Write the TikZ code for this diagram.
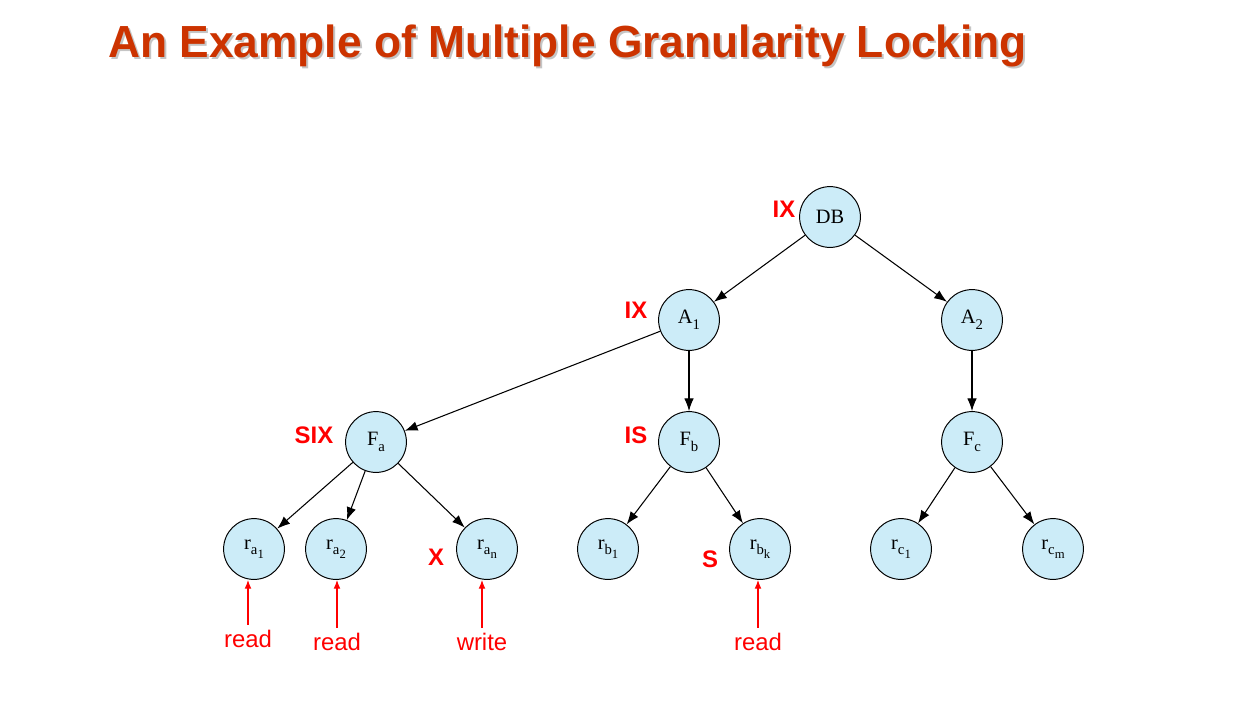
\documentclass[tikz,border=0pt]{standalone}
\usepackage{fontspec}
\setmainfont{Liberation Serif}
\setsansfont{Liberation Sans}
\usetikzlibrary{arrows.meta}

\definecolor{nodeblue}{RGB}{204,236,248}
\definecolor{titlered}{RGB}{204,51,0}

% subscripts sized for the circles
\newcommand{\lsub}[1]{\raisebox{-0.28em}{\fontsize{10.5}{12}\selectfont #1}}
\newcommand{\llsub}[2]{\raisebox{-0.28em}{\fontsize{10.5}{12}\selectfont #1\raisebox{-0.25em}{\fontsize{9}{10}\selectfont #2}}}

\tikzset{
  obj/.style={circle,draw,fill=nodeblue,minimum size=1.52cm,inner sep=0pt,
    line width=0.7pt,font=\fontsize{14.5}{16}\selectfont},
  lock/.style={text=red,font=\sffamily\bfseries\fontsize{17}{20}\selectfont},
  op/.style={text=red,anchor=base,font=\sffamily\fontsize{17}{20}\selectfont},
  edge/.style={-{Latex[length=3.2mm,width=2.4mm]},line width=0.75pt},
  oparrow/.style={-{Latex[length=2.2mm,width=1.7mm]},red,line width=0.75pt}
}

\begin{document}
\begin{tikzpicture}[x=0.025cm,y=-0.025cm]

\useasboundingbox (0,0) rectangle (1254,706);

% title
\node[anchor=base west,inner sep=0pt,text=black!45,opacity=0.5,
  font=\sffamily\bfseries\fontsize{32}{36}\selectfont]
(tshadow)
at (110,59)
{\scalebox{0.985}[1]{An Example of Multiple Granularity Locking}};

\node[anchor=base west,inner sep=0pt,text=titlered,
  font=\sffamily\bfseries\fontsize{32}{36}\selectfont]
(title)
at (108,57)
{\scalebox{0.985}[1]{An Example of Multiple Granularity Locking}};

% tree
\node[obj]
(DB)
at (830,217)
{DB};

\node[obj]
(A1)
at (689,320)
{A\lsub{1}};

\node[obj]
(A2)
at (972,320)
{A\lsub{2}};

\node[obj]
(Fa)
at (376,442)
{F\lsub{a}};

\node[obj]
(Fb)
at (689,442)
{F\lsub{b}};

\node[obj]
(Fc)
at (972,442)
{F\lsub{c}};

\node[obj]
(ra1)
at (254,549)
{r\llsub{a}{1}};

\node[obj]
(ra2)
at (336,549)
{r\llsub{a}{2}};

\node[obj]
(ran)
at (487,549)
{r\llsub{a}{n}};

\node[obj]
(rb1)
at (608,549)
{r\llsub{b}{1}};

\node[obj]
(rbk)
at (760,549)
{r\llsub{b}{k}};

\node[obj]
(rc1)
at (901,549)
{r\llsub{c}{1}};

\node[obj]
(rcm)
at (1053,549)
{r\llsub{c}{m}};

\draw[edge] (DB) -- (A1);
\draw[edge] (DB) -- (A2);
\draw[edge] (A1) -- (Fa);
\draw[edge] (A1) -- (Fb);
\draw[edge] (A2) -- (Fc);
\draw[edge] (Fa) -- (ra1);
\draw[edge] (Fa) -- (ra2);
\draw[edge] (Fa) -- (ran);
\draw[edge] (Fb) -- (rb1);
\draw[edge] (Fb) -- (rbk);
\draw[edge] (Fc) -- (rc1);
\draw[edge] (Fc) -- (rcm);

% lock modes
\node[lock] (lDB) at (784,209) {IX};
\node[lock] (lA1) at (636,310) {IX};
\node[lock] (lFa) at (314,435) {SIX};
\node[lock] (lFb) at (636,435) {IS};
\node[lock] (lran) at (436,557) {X};
\node[lock] (lrbk) at (710,559) {S};

% operations
\node[op] (rd1) at (248,647) {read};
\node[op] (rd2) at (337,650) {read};
\node[op] (wr) at (482,650) {write};
\node[op] (rd4) at (758,650) {read};

\draw[oparrow] (rd1.north) -- (rd1.north |- ra1.south);
\draw[oparrow] (rd2.north) -- (rd2.north |- ra2.south);
\draw[oparrow] (wr.north) -- (wr.north |- ran.south);
\draw[oparrow] (rd4.north) -- (rd4.north |- rbk.south);

\end{tikzpicture}
\end{document}
